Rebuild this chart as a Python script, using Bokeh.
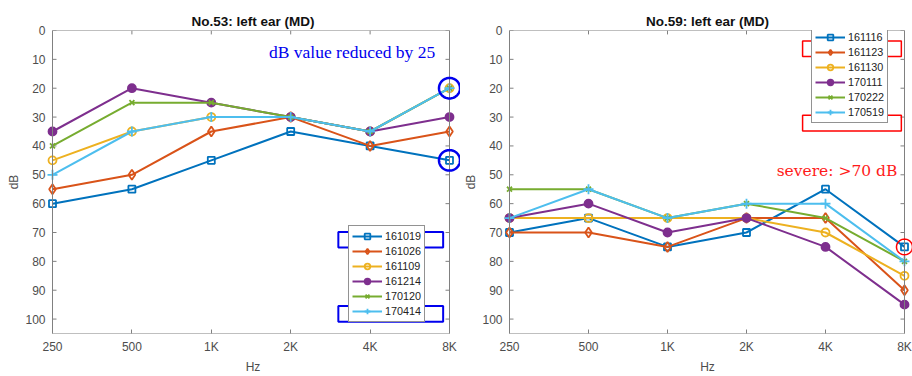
import numpy as np
from bokeh.plotting import figure
from bokeh.models import (Range1d, FixedTicker, Legend, LegendItem, BoxAnnotation,
                          Label, PolyAnnotation)
from bokeh.layouts import row
from bokeh.embed import file_html
from bokeh.resources import INLINE

# ---------------- data ----------------
freq_labels = ["250", "500", "1K", "2K", "4K", "8K"]
db_ticks = [0, 10, 20, 30, 40, 50, 60, 70, 80, 90, 100]

left_title = "No.53: left ear (MD)"
left_dates = ["161019", "161026", "161109", "161214", "170120", "170414"]
left_161019 = [60, 55, 45, 35, 40, 45]
left_161026 = [55, 50, 35, 30, 40, 35]
left_161109 = [45, 35, 30, 30, 35, 20]
left_161214 = [35, 20, 25, 30, 35, 30]
left_170120 = [40, 25, 25, 30, 35, 20]
left_170414 = [50, 35, 30, 30, 35, 20]

right_title = "No.59: left ear (MD)"
right_dates = ["161116", "161123", "161130", "170111", "170222", "170519"]
right_161116 = [70, 65, 75, 70, 55, 75]
right_161123 = [70, 70, 75, 65, 65, 90]
right_161130 = [65, 65, 65, 65, 70, 85]
right_170111 = [65, 60, 70, 65, 75, 95]
right_170222 = [55, 55, 65, 60, 65, 80]
right_170519 = [65, 55, 65, 60, 60, 80]

left_series = [left_161019, left_161026, left_161109, left_161214, left_170120, left_170414]
right_series = [right_161116, right_161123, right_161130, right_170111, right_170222, right_170519]

# ---------------- styles ----------------
colors = ["#0072BD", "#D95319", "#EDB120", "#7E2F8E", "#77AC30", "#4DBEEE"]
markers = [("square", 7, False), ("diamond", 10, False), ("circle", 8, False),
           ("circle", 8, True), ("x", 7, False), ("cross", 10, False)]
SANS = "Liberation Sans"
AX_COL = "#808080"
LBL_COL = "#4d4d4d"
H = 376
BT, BB = 30, 36
FH = H - BT - BB
YMAX = 105
TICK_PX = 4


def make_panel(title, dates, series, width, bl, br, pad_l, pad_r, legend_loc):
    xs = list(range(len(freq_labels)))
    x_last = len(xs) - 1
    fw = width - bl - br
    ux = (fw - pad_l - pad_r) / x_last
    uy = FH / YMAX
    p = figure(width=width, height=H, min_border_left=bl, min_border_right=br,
               min_border_top=BT, min_border_bottom=BB,
               x_range=Range1d(-pad_l / ux, x_last + pad_r / ux), y_range=Range1d(YMAX, 0),
               output_backend="svg", toolbar_location=None, title=title)
    p.title.align = "center"
    p.title.text_font = SANS
    p.title.text_font_size = "13.5px"
    p.title.text_font_style = "bold"
    p.title.text_color = "#111111"
    p.title.standoff = 3
    p.outline_line_color = None
    p.grid.visible = False
    p.background_fill_color = "white"
    p.border_fill_color = "white"

    # x axis (bottom)
    p.xaxis.ticker = FixedTicker(ticks=xs)
    p.xaxis.major_label_overrides = {i: s for i, s in enumerate(freq_labels)}
    p.xaxis.axis_line_color = None
    p.xaxis.major_tick_in = TICK_PX
    p.xaxis.major_tick_out = 0
    p.xaxis.major_tick_line_color = AX_COL
    p.xaxis.minor_tick_line_color = None
    p.xaxis.major_label_standoff = 6
    p.xaxis.major_label_text_font = SANS
    p.xaxis.major_label_text_font_size = "12px"
    p.xaxis.major_label_text_color = LBL_COL
    p.xaxis.axis_label = "Hz"
    p.xaxis.axis_label_standoff = 3
    p.xaxis.axis_label_text_font = SANS
    p.xaxis.axis_label_text_font_size = "12px"
    p.xaxis.axis_label_text_font_style = "normal"
    p.xaxis.axis_label_text_color = LBL_COL

    # y axis (left)
    p.yaxis.ticker = FixedTicker(ticks=db_ticks)
    p.yaxis.axis_line_color = None
    p.yaxis.major_tick_line_color = None
    p.yaxis.minor_tick_line_color = None
    p.yaxis.major_tick_out = 0
    p.yaxis.major_tick_in = 0
    p.yaxis.major_label_standoff = 0
    p.yaxis.major_label_text_font = SANS
    p.yaxis.major_label_text_font_size = "12px"
    p.yaxis.major_label_text_color = LBL_COL
    p.yaxis.axis_label = "dB"
    p.yaxis.axis_label_standoff = 1
    p.yaxis.axis_label_text_font = SANS
    p.yaxis.axis_label_text_font_size = "12px"
    p.yaxis.axis_label_text_font_style = "normal"
    p.yaxis.axis_label_text_color = LBL_COL

    # box
    p.add_layout(BoxAnnotation(left=0, right=x_last, top=0, bottom=YMAX, fill_alpha=0,
                               line_color=AX_COL, line_alpha=1, line_width=1))
    # inner ticks: y on left & right, x on top
    tl_x = TICK_PX / ux
    tl_y = TICK_PX / uy
    p.segment(x0=[0] * len(db_ticks), x1=[tl_x] * len(db_ticks), y0=db_ticks, y1=db_ticks,
              line_color=AX_COL, line_width=1)
    p.segment(x0=[x_last] * len(db_ticks), x1=[x_last - tl_x] * len(db_ticks),
              y0=db_ticks, y1=db_ticks, line_color=AX_COL, line_width=1)
    p.segment(x0=xs, x1=xs, y0=[0] * len(xs), y1=[tl_y] * len(xs),
              line_color=AX_COL, line_width=1)

    items = []
    for d, ys, c, (mk, sz, filled) in zip(dates, series, colors, markers):
        l = p.line(xs, ys, line_color=c, line_width=2)
        s = p.scatter(xs, ys, marker=mk, size=sz, line_color=c, line_width=1.8,
                      fill_color=c if filled else None)
        items.append(LegendItem(label=d, renderers=[l, s]))

    leg = Legend(items=items, location=legend_loc)
    leg.label_text_font = SANS
    leg.label_text_font_size = "10.8px"
    leg.label_text_color = "#222222"
    leg.glyph_width = 30
    leg.glyph_height = 14
    leg.label_height = 14
    leg.label_standoff = 3
    leg.label_width = 10
    leg.spacing = 1
    leg.padding = 3
    leg.margin = 0
    leg.border_line_color = "#262626"
    leg.border_line_width = 1
    leg.background_fill_color = "white"
    leg.background_fill_alpha = 1
    p.add_layout(leg, "center")
    return p, ux, uy


def ellipse(cx, cy, r_px, ux, uy):
    t = np.linspace(0, 2 * np.pi, 73)
    return list(cx + r_px / ux * np.cos(t)), list(cy + r_px / uy * np.sin(t))


left, lux, luy = make_panel(left_title, left_dates, left_series, 460, 45, 0, 7, 11, (303, 11))
right, rux, ruy = make_panel(right_title, right_dates, right_series, 452, 42, 0, 7, 8, (309, 210))

# ---- highlights on left panel ----
for val in (left_170414[-1], left_161019[-1]):
    ex, ey = ellipse(len(freq_labels) - 1, val, 10.5, lux, luy)
    left.add_layout(PolyAnnotation(xs=ex, ys=ey, fill_alpha=0, line_color="#0000ee",
                                   line_alpha=1, line_width=2.5))
left.add_layout(BoxAnnotation(left=3.60, right=4.92, top=69.8, bottom=75.2, fill_alpha=0,
                              line_color="#0000ee", line_alpha=1, line_width=2))
left.add_layout(BoxAnnotation(left=3.60, right=4.92, top=95.5, bottom=100.9, fill_alpha=0,
                              line_color="#0000ee", line_alpha=1, line_width=2))
left.add_layout(Label(x=4.82, y=7.45, text="dB value reduced by 25", text_align="right",
                      text_baseline="middle", text_font="Liberation Serif",
                      text_font_size="17.5px", text_color="#0000ee"))

# ---- highlights on right panel ----
ex, ey = ellipse(len(freq_labels) - 1, right_161116[-1], 8, rux, ruy)
right.add_layout(PolyAnnotation(xs=ex, ys=ey, fill_alpha=0, line_color="#ff0000",
                                line_alpha=1, line_width=1.5))
right.add_layout(BoxAnnotation(left=3.71, right=4.96, top=3.6, bottom=9.0, fill_alpha=0,
                               line_color="#ff0000", line_alpha=1, line_width=1.5))
right.add_layout(BoxAnnotation(left=3.71, right=4.96, top=29.4, bottom=34.8, fill_alpha=0,
                               line_color="#ff0000", line_alpha=1, line_width=1.5))
right.add_layout(Label(x=4.91, y=48.8, text="severe: >70 dB", text_align="right",
                       text_baseline="middle", text_font="DejaVu Serif",
                       text_font_size="15.5px", text_color="#ff1a1a"))

layout = row(left, right)
open("out.html", "w").write(file_html(layout, INLINE))
